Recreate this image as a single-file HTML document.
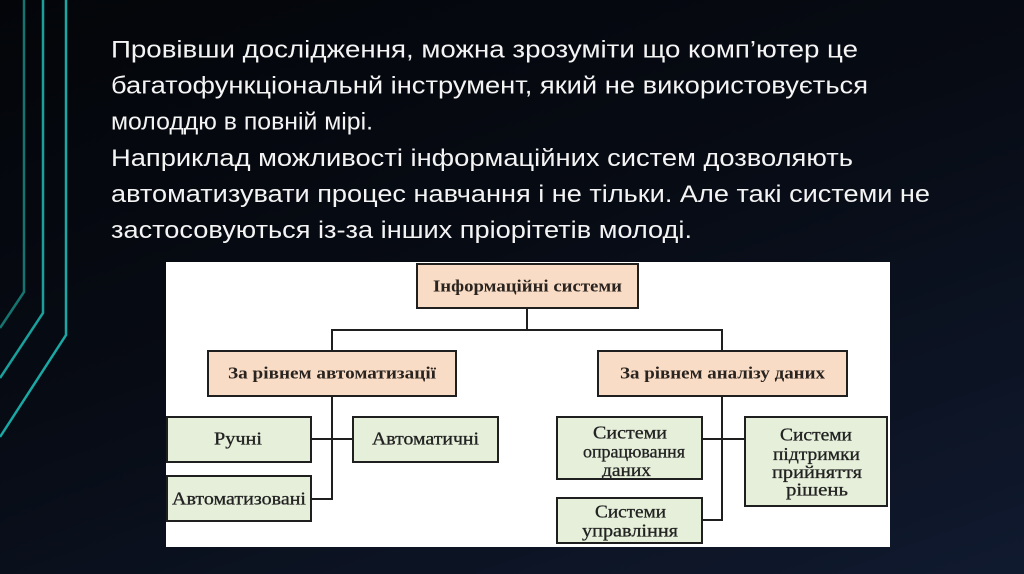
<!DOCTYPE html>
<html>
<head>
<meta charset="utf-8">
<style>
  html, body { margin:0; padding:0; width:1024px; height:574px; overflow:hidden; }
  body { background: linear-gradient(160deg, #030509 0%, #070b14 45%, #101a2f 100%); }
  svg { display:block; }
  .t { font-family: "Liberation Sans", "DejaVu Sans", sans-serif; font-size:24.5px; fill:#f4f4f4; }
  .b { font-family: "Liberation Serif", "DejaVu Serif", serif; font-size:17px; font-weight:bold; fill:#2a2420; }
  .r { font-family: "Liberation Serif", "DejaVu Serif", serif; font-size:17.5px; fill:#222; stroke:#222; stroke-width:0.3; }
  .box { stroke:#1f1f1f; stroke-width:2; }
  .ln { stroke:#1f1f1f; stroke-width:2; fill:none; }
</style>
</head>
<body>
<svg width="1024" height="574" viewBox="0 0 1024 574" xmlns="http://www.w3.org/2000/svg">
  <!-- teal decorative lines -->
  <polyline points="24,0 24,292 0,328" fill="none" stroke="#157470" stroke-width="2.5"/>
  <polyline points="43,0 43,313 0,378" fill="none" stroke="#1a9f9b" stroke-width="2.5"/>
  <polyline points="66,0 66,335 0,437" fill="none" stroke="#1aa8a4" stroke-width="2.5"/>

  <!-- paragraph text -->
  <text class="t" x="111" y="57.5" textLength="747" lengthAdjust="spacingAndGlyphs">Провівши дослідження, можна зрозуміти що комп’ютер це</text>
  <text class="t" x="111" y="93.6" textLength="757" lengthAdjust="spacingAndGlyphs">багатофункціональнй інструмент, який не використовується</text>
  <text class="t" x="111" y="129.7" textLength="262" lengthAdjust="spacingAndGlyphs">молоддю в повній мірі.</text>
  <text class="t" x="111" y="165.8" textLength="742" lengthAdjust="spacingAndGlyphs">Наприклад можливості інформаційних систем дозволяють</text>
  <text class="t" x="111" y="201.9" textLength="819" lengthAdjust="spacingAndGlyphs">автоматизувати процес навчання і не тільки. Але такі системи не</text>
  <text class="t" x="111" y="238" textLength="581" lengthAdjust="spacingAndGlyphs">застосовуються із-за інших пріорітетів молоді.</text>

  <!-- diagram panel -->
  <rect x="166" y="262" width="724" height="285" fill="#ffffff"/>

  <!-- connectors -->
  <line class="ln" x1="527" y1="308" x2="527" y2="330"/>
  <line class="ln" x1="331" y1="330" x2="723" y2="330"/>
  <line class="ln" x1="332" y1="330" x2="332" y2="351"/>
  <line class="ln" x1="722" y1="330" x2="722" y2="351"/>
  <line class="ln" x1="332" y1="396" x2="332" y2="500"/>
  <line class="ln" x1="311" y1="439" x2="353" y2="439"/>
  <line class="ln" x1="311" y1="499" x2="333" y2="499"/>
  <line class="ln" x1="722" y1="396" x2="722" y2="521"/>
  <line class="ln" x1="702" y1="439" x2="745" y2="439"/>
  <line class="ln" x1="702" y1="520" x2="723" y2="520"/>

  <!-- peach boxes -->
  <rect class="box" x="417" y="264" width="221" height="44" fill="#f9dcc5"/>
  <rect class="box" x="208" y="351" width="248" height="45" fill="#f9dcc5"/>
  <rect class="box" x="598" y="351" width="249" height="45" fill="#f9dcc5"/>

  <!-- green boxes -->
  <rect class="box" x="167" y="417" width="144" height="45" fill="#e5efd9"/>
  <rect class="box" x="353" y="417" width="145" height="45" fill="#e5efd9"/>
  <rect class="box" x="167" y="476" width="144" height="45" fill="#e5efd9"/>
  <rect class="box" x="557" y="417" width="145" height="62" fill="#e5efd9"/>
  <rect class="box" x="745" y="417" width="142" height="89" fill="#e5efd9"/>
  <rect class="box" x="557" y="498" width="145" height="45" fill="#e5efd9"/>

  <!-- bold labels -->
  <text class="b" x="433" y="291.5" textLength="189" lengthAdjust="spacingAndGlyphs">Інформаційні системи</text>
  <text class="b" x="228" y="378.5" textLength="208" lengthAdjust="spacingAndGlyphs">За рівнем автоматизації</text>
  <text class="b" x="620" y="378.5" textLength="205" lengthAdjust="spacingAndGlyphs">За рівнем аналізу даних</text>

  <!-- regular labels -->
  <text class="r" x="214" y="444.5" textLength="48" lengthAdjust="spacingAndGlyphs">Ручні</text>
  <text class="r" x="372" y="444.5" textLength="107" lengthAdjust="spacingAndGlyphs">Автоматичні</text>
  <text class="r" x="172" y="504.5" textLength="134" lengthAdjust="spacingAndGlyphs">Автоматизовані</text>

  <text class="r" x="593" y="438.5" textLength="74" lengthAdjust="spacingAndGlyphs">Системи</text>
  <text class="r" x="583" y="457.5" textLength="102" lengthAdjust="spacingAndGlyphs">опрацювання</text>
  <text class="r" x="602" y="476" textLength="49" lengthAdjust="spacingAndGlyphs">даних</text>

  <text class="r" x="595" y="517.5" textLength="71" lengthAdjust="spacingAndGlyphs">Системи</text>
  <text class="r" x="582" y="536.5" textLength="96" lengthAdjust="spacingAndGlyphs">управління</text>

  <text class="r" x="780" y="440.5" textLength="72" lengthAdjust="spacingAndGlyphs">Системи</text>
  <text class="r" x="773" y="460" textLength="87" lengthAdjust="spacingAndGlyphs">підтримки</text>
  <text class="r" x="772" y="478" textLength="90" lengthAdjust="spacingAndGlyphs">прийняття</text>
  <text class="r" x="786" y="495.5" textLength="62" lengthAdjust="spacingAndGlyphs">рішень</text>
</svg>
</body>
</html>
